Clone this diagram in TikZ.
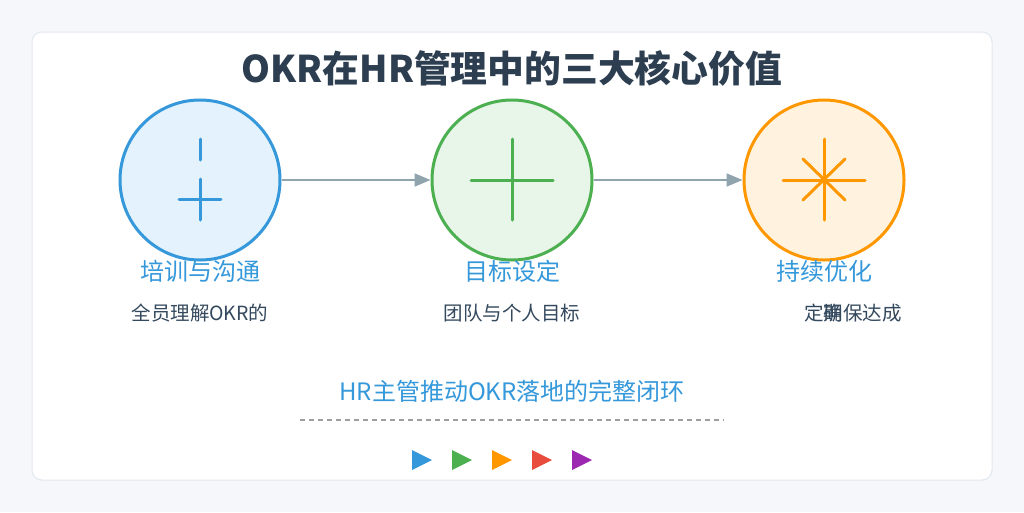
\documentclass[tikz,border=0pt]{standalone}
\usepackage{fontspec}
\setmainfont{Noto Sans CJK SC}
\usetikzlibrary{arrows.meta,calc}
\definecolor{bgc}{HTML}{F5F7FA}
\definecolor{cardb}{HTML}{E2E8F0}
\definecolor{titlec}{HTML}{2C3E50}
\definecolor{bluec}{HTML}{3498DB}
\definecolor{bluef}{HTML}{E3F2FD}
\definecolor{greenc}{HTML}{4CAF50}
\definecolor{greenf}{HTML}{E8F5E9}
\definecolor{orangec}{HTML}{FF9800}
\definecolor{orangef}{HTML}{FFF3E0}
\definecolor{redc}{HTML}{E74C3C}
\definecolor{purplec}{HTML}{9C27B0}
\definecolor{arrowc}{HTML}{90A4AE}
\definecolor{descc}{HTML}{34495E}
\definecolor{dashc}{HTML}{9E9E9E}
\tikzset{
  stagecircle/.style={circle, minimum size=160pt, inner sep=0pt, line width=3pt},
  iconline/.style={line width=3pt, line cap=round},
  labeltext/.style={font=\fontsize{24pt}{28pt}\selectfont, text=bluec, inner sep=0pt},
  desctext/.style={font=\fontsize{19.5pt}{22pt}\selectfont, text=descc, inner sep=0pt},
  flowarrow/.style={draw=arrowc, line width=2pt, -{Triangle[length=16pt,width=13pt]}},
}
\begin{document}
\begin{tikzpicture}[x=1pt,y=-1pt]
\useasboundingbox (0,0) rectangle (1024,512);
\fill[bgc] (0,0) rectangle (1024,512);
\draw[cardb, fill=white, line width=1pt, rounded corners=10pt] (32,32) rectangle (992,480);

\node[font=\fontsize{36.8pt}{42pt}\selectfont\bfseries, text=titlec, inner sep=0pt] (title) at (512,68) {OKR在HR管理中的三大核心价值};

\node[stagecircle, draw=bluec, fill=bluef] (c1) at (200,180) {};
\node[stagecircle, draw=greenc, fill=greenf] (c2) at (512,180) {};
\node[stagecircle, draw=orangec, fill=orangef] (c3) at (824,180) {};

\draw[flowarrow] (c1.east) -- (c2.west);
\draw[flowarrow] (c2.east) -- (c3.west);

% icon 1
\draw[iconline, bluec] ($(c1.center)+(0,-41)$) -- ($(c1.center)+(0,-20)$);
\draw[iconline, bluec] ($(c1.center)+(-21,19)$) -- ($(c1.center)+(21,19)$);
\draw[iconline, bluec] ($(c1.center)+(0,-1)$) -- ($(c1.center)+(0,40)$);
% icon 2
\draw[iconline, greenc] ($(c2.center)+(-41,0)$) -- ($(c2.center)+(41,0)$);
\draw[iconline, greenc] ($(c2.center)+(0,-41)$) -- ($(c2.center)+(0,40)$);
% icon 3
\draw[iconline, orangec] ($(c3.center)+(-41,0)$) -- ($(c3.center)+(41,0)$);
\draw[iconline, orangec] ($(c3.center)+(0,-41)$) -- ($(c3.center)+(0,40)$);
\draw[iconline, orangec] ($(c3.center)+(-21,-21)$) -- ($(c3.center)+(21,20)$);
\draw[iconline, orangec] ($(c3.center)+(21,-21)$) -- ($(c3.center)+(-21,20)$);
\fill[orangec] (c3.center) circle (3.5pt);

\node[labeltext] (l1) at (200,271) {培训与沟通};
\node[labeltext] (l2) at (512,271) {目标设定};
\node[labeltext] (l3) at (824,271) {持续优化};

\node[desctext] (d1) at (200,313) {全员理解OKR的};
\node[desctext] (d2) at (512,313) {团队与个人目标};
\node[desctext, anchor=west] (d3) at (804,313) {定\rlap{期}确保达成};

\node[labeltext] (bottom) at (512,391) {HR主管推动OKR落地的完整闭环};
\coordinate (dl) at (300,420);
\coordinate (dr) at (724,420);
\draw[dashc, line width=1.5pt, dash pattern=on 5pt off 4pt] (dl) -- (dr);

\foreach \c [count=\i from 0] in {bluec,greenc,orangec,redc,purplec}{
  \fill[\c] (412+40*\i,450) -- (432+40*\i,460) -- (412+40*\i,470) -- cycle;
}
\end{tikzpicture}
\end{document}
